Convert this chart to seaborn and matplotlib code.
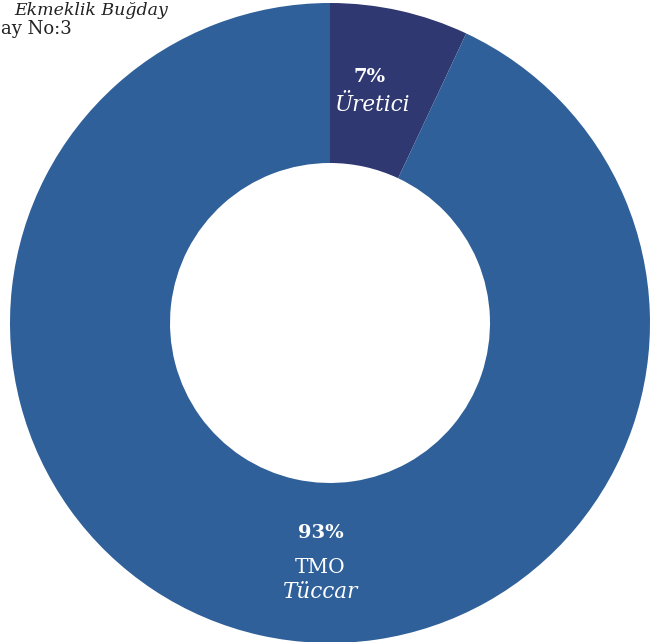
import numpy as np
import matplotlib
matplotlib.use("Agg")
import matplotlib.pyplot as plt
import seaborn as sns

# Data
categories = ["Üretici", "Tüccar"]
sub_labels = ["", "TMO"]
shares = [7, 93]
colors = ["#2f3870", "#2f6099"]
title_lines = ["Ekmeklik Buğday", "ay No:3"]

sns.set_theme(style="white")
plt.rcParams["font.family"] = ["DejaVu Serif", "DejaVu Sans"]

fig = plt.figure(figsize=(6.59, 6.42), dpi=100)
fig.patch.set_facecolor("white")
# axes box so the ring spans the picture like the reference
ax = fig.add_axes([10 / 659, -1 / 642, 640 / 659, 640 / 642])

wedges, _ = ax.pie(shares, colors=colors, startangle=90, counterclock=False,
                   radius=1.0, wedgeprops=dict(width=0.5, edgecolor="none"))
ax.set_xlim(-1, 1)
ax.set_ylim(-1, 1)
ax.set_aspect("auto")
ax.axis("off")

# label spots (pct, upright line, italic line) in data units
label_pos = [((0.125, 0.77), None, (0.135, 0.68)),
             ((-0.03, -0.655), (-0.03, -0.765), (-0.03, -0.84))]
for cat, sub, val, (p_pct, p_sub, p_name) in zip(categories, sub_labels, shares, label_pos):
    ax.text(p_pct[0], p_pct[1], f"{val}%", ha="center", va="center",
            color="white", fontsize=14, fontweight="bold")
    if sub:
        ax.text(p_sub[0], p_sub[1], sub, ha="center", va="center",
                color="white", fontsize=14.5)
    ax.text(p_name[0], p_name[1], cat, ha="center", va="center",
            color="white", fontsize=15.5, fontstyle="italic")

# title, as much of it as the reference shows at the top-left
fig.text(168 / 659, 1 - 2 / 642, title_lines[0], ha="right", va="top",
         fontsize=12.5, fontstyle="italic", color="#222222")
fig.text(1 / 659, 1 - 29 / 642, title_lines[1], ha="left", va="center",
         fontsize=13, color="#222222")

fig.savefig("out.png", dpi=100)
